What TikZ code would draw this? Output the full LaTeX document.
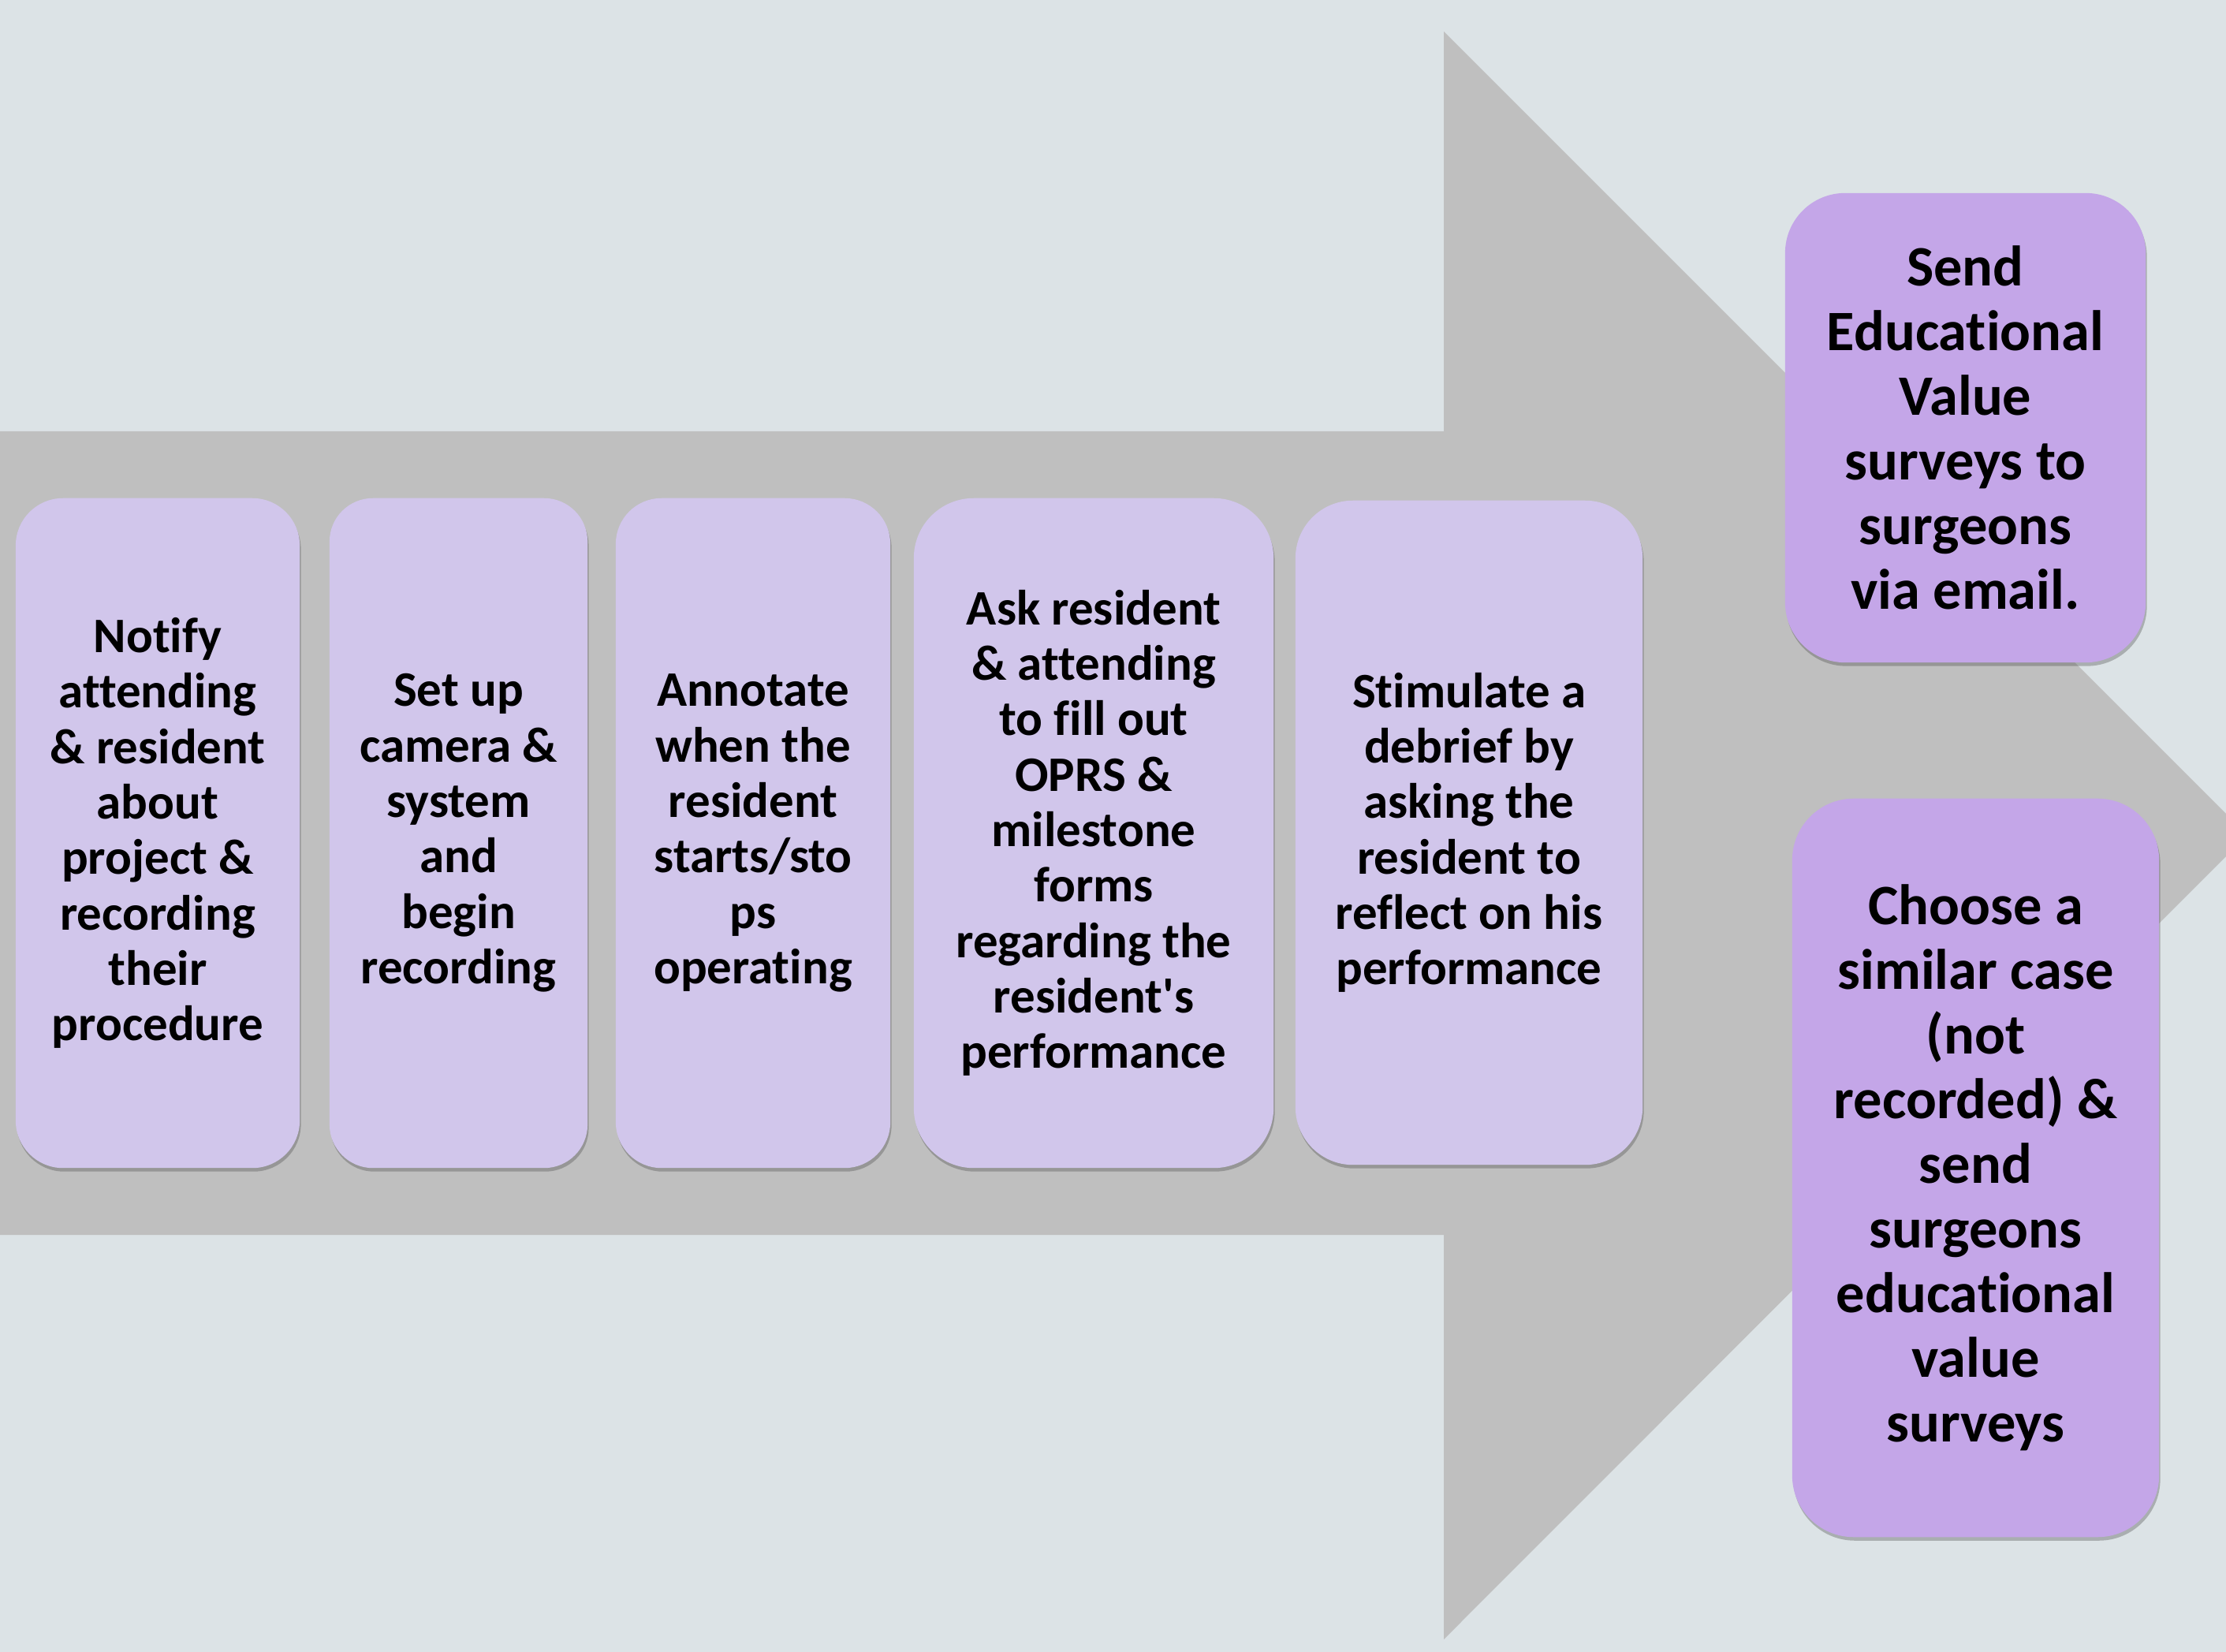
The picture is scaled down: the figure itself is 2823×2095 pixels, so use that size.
\documentclass[tikz,border=0pt]{standalone}
\usepackage{fontspec}
\setmainfont{Carlito}[Ligatures={NoCommon}]
\usetikzlibrary{shadows}
\definecolor{bgcol}{HTML}{DCE3E6}
\definecolor{arrowcol}{HTML}{BFBFBF}
\definecolor{lpurple}{HTML}{D1C6EB}
\definecolor{dpurple}{HTML}{C4A6E8}
\tikzset{
  stepbox/.style={rectangle, fill=lpurple, inner sep=0pt, align=center,
    font=\fontsize{17.9}{20}\selectfont\bfseries,
    drop shadow={shadow xshift=0.015cm, shadow yshift=-0.045cm, opacity=0.35, fill=black!70}},
  endbox/.style={stepbox, fill=dpurple, font=\fontsize{20.6}{23.3}\selectfont\bfseries},
}
\begin{document}
\begin{tikzpicture}[x=0.01cm, y=-0.01cm]
\useasboundingbox (0,0) rectangle (2823,2095);
\clip (0,0) rectangle (2823,2095);
\fill[bgcol] (0,0) rectangle (2823,2095);
\fill[arrowcol] (0,547) -- (1831,547) -- (1831,40) -- (2850,1059) -- (1831,2079) -- (1831,1566) -- (0,1566) -- cycle;

\node[stepbox, minimum width=3.60cm, minimum height=8.49cm, rounded corners=0.60cm] (n1) at (200,1056.5)
  {Notify\\attending\\\& resident\\about\\project \&\\recording\\their\\procedure};
\node[stepbox, minimum width=3.27cm, minimum height=8.49cm, rounded corners=0.55cm] (n2) at (581.5,1056.5)
  {Set up\\camera \&\\system\\and\\begin\\recording};
\node[stepbox, minimum width=3.48cm, minimum height=8.49cm, rounded corners=0.58cm] (n3) at (955,1056.5)
  {Annotate\\when the\\resident\\starts/sto\\ps\\operating};
\node[stepbox, minimum width=4.56cm, minimum height=8.49cm, rounded corners=0.76cm] (n4) at (1387,1056.5)
  {Ask resident\\\& attending\\to fill out\\OPRS \&\\milestone\\forms\\regarding the\\resident\textquotesingle s\\performance};
\node[stepbox, minimum width=4.40cm, minimum height=8.42cm, rounded corners=0.73cm] (n5) at (1863,1056)
  {Stimulate a\\debrief by\\asking the\\resident to\\reflect on his\\performance};
\node[endbox, minimum width=4.57cm, minimum height=5.95cm, rounded corners=0.76cm] (n6) at (2492.5,542.5)
  {Send\\Educational\\Value\\surveys to\\surgeons\\via email.};
\node[endbox, minimum width=4.65cm, minimum height=9.36cm, rounded corners=0.78cm] (n7) at (2505.5,1481)
  {Choose a\\similar case\\(not\\recorded) \&\\send\\surgeons\\educational\\value\\surveys};
\end{tikzpicture}
\end{document}
